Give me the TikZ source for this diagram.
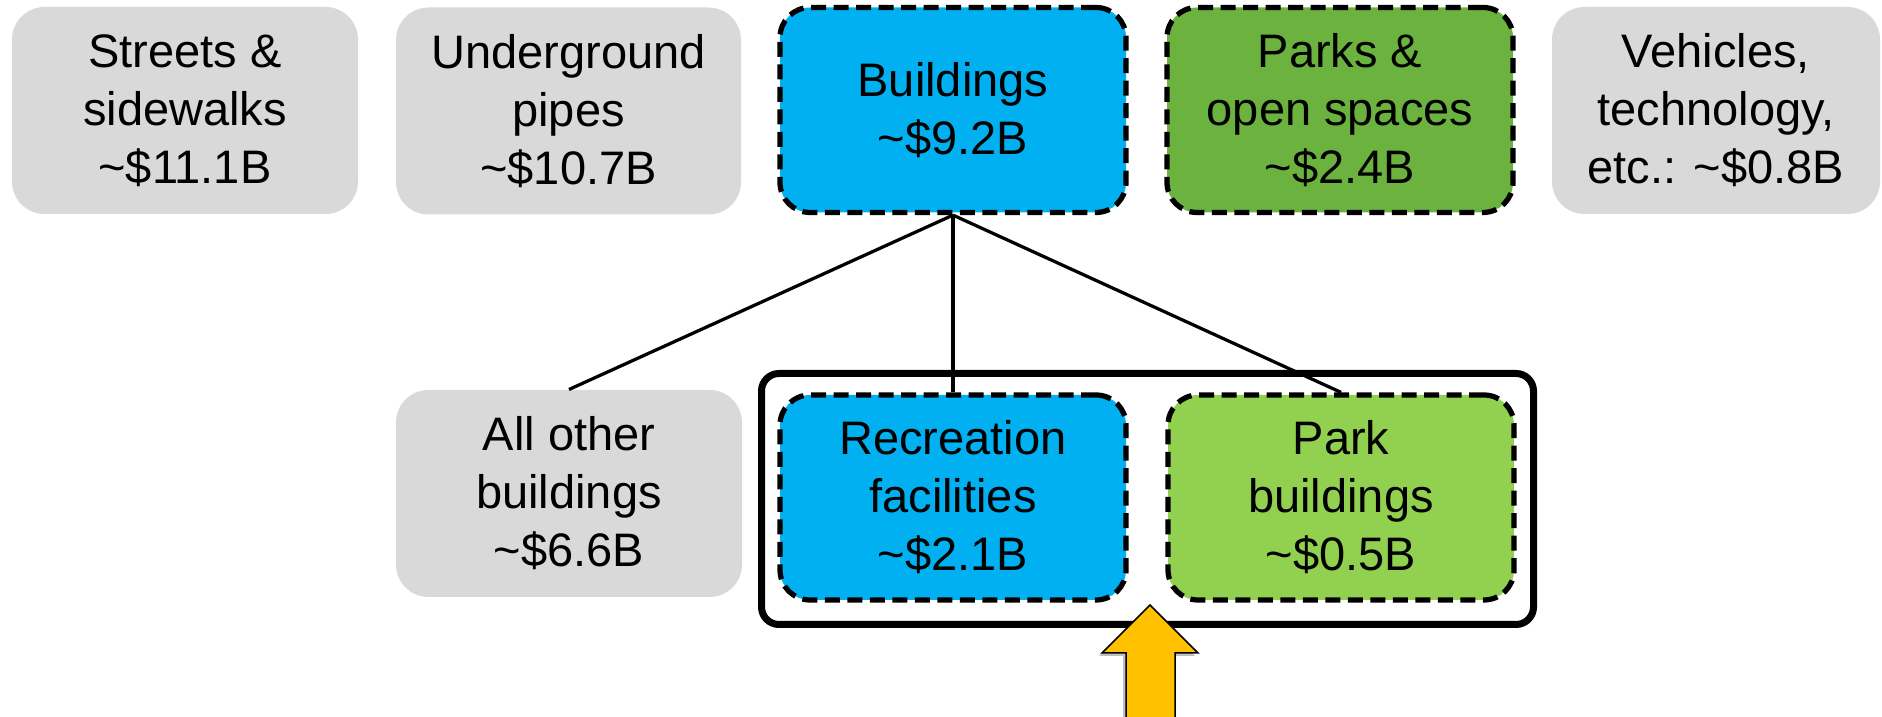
\documentclass[tikz,border=0pt]{standalone}
\usepackage{fontspec}
\setmainfont{Liberation Sans}
\usetikzlibrary{shadows}
\definecolor{grayfill}{HTML}{D9D9D9}
\definecolor{bluefill}{HTML}{00B0F0}
\definecolor{darkgreen}{HTML}{6BB23E}
\definecolor{lightgreen}{HTML}{92D050}
\definecolor{arrowfill}{HTML}{FFC000}
\begin{document}
\begin{tikzpicture}[x=0.4pt,y=-0.4pt,
  boxsize/.style 2 args={minimum width=#1*0.4pt, minimum height=#2*0.4pt},
  basebox/.style={rectangle, inner sep=0pt, align=center,
    font=\fontsize{18.8pt}{23.2pt}\selectfont},
  graybox/.style={basebox, fill=grayfill, rounded corners=13pt},
  dashbox/.style={basebox, draw=black, line width=2.1pt,
    dash pattern=on 6pt off 3pt, rounded corners=12pt},
  groupbox/.style={rectangle, draw=black, line width=2.8pt, rounded corners=7pt, inner sep=0pt},
  link/.style={draw=black, line width=1.3pt},
  bigarrow/.style={fill=arrowfill, draw=black, line width=0.6pt,
    drop shadow={shadow xshift=-1.2pt, shadow yshift=-1.2pt, opacity=0.25, fill=black}}
]
\useasboundingbox (0,0) rectangle (1882,717);
\clip (0,0) rectangle (1882,717);

% top row
\node[graybox, boxsize={346}{207}] (streets) at (185,110.5) {Streets \&\\ sidewalks\\ \textasciitilde\$11.1B};
\node[graybox, boxsize={345}{207}] (pipes) at (568.5,111) {Underground\\ pipes\\ \textasciitilde\$10.7B};
\node[dashbox, fill=bluefill, boxsize={346}{205}] (buildings) at (953,110) {Buildings\\ \textasciitilde\$9.2B};
\node[dashbox, fill=darkgreen, boxsize={346}{205}] (parks) at (1340,110) {Parks \&\\ open spaces\\ \textasciitilde\$2.4B};
\node[graybox, boxsize={328}{207}] (vehicles) at (1716,110.5) {Vehicles,\\ technology,\\ etc.: \textasciitilde\$0.8B};

% group frame
\node[groupbox, boxsize={772}{251}] (group) at (1147.5,499) {};

% second row
\node[graybox, boxsize={346}{207}] (other) at (569,493.5) {All other\\ buildings\\ \textasciitilde\$6.6B};
\node[dashbox, fill=bluefill, boxsize={346}{205}] (rec) at (953,497.5) {Recreation\\ facilities\\ \textasciitilde\$2.1B};
\node[dashbox, fill=lightgreen, boxsize={346}{205}] (parkb) at (1341,497.5) {Park\\ buildings\\ \textasciitilde\$0.5B};

% connectors
\draw[link] (buildings.south) -- (other.north);
\draw[link] (buildings.south) -- (rec.north);
\draw[link] (buildings.south) -- (parkb.north);

% arrow
\coordinate (tip) at (1150,605);
\path[bigarrow] (tip) -- (1198,653) -- (1175,653) -- (1175,730) -- (1126,730) -- (1126,653) -- (1102,653) -- cycle;
\end{tikzpicture}
\end{document}
